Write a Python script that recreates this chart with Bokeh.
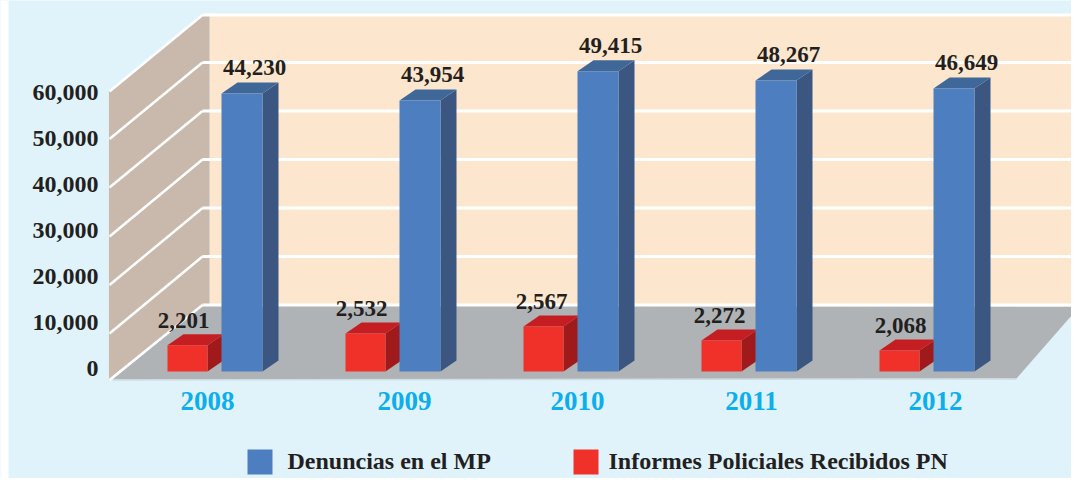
from bokeh.plotting import figure
from bokeh.models import Range1d
from bokeh.core.properties import value
from bokeh.embed import file_html
from bokeh.resources import INLINE

# ---- data ----
years = ["2008", "2009", "2010", "2011", "2012"]
denuncias_labels = [44230, 43954, 49415, 48267, 46649]
informes_labels = [2201, 2532, 2567, 2272, 2068]
# heights as actually drawn in the picture, read against the axis
denuncias_heights = [57300, 55900, 61900, 60000, 58350]
informes_heights = [5400, 7850, 9300, 6400, 4350]
axis_ticks = [0, 10000, 20000, 30000, 40000, 50000, 60000]
series_names = ["Denuncias en el MP", "Informes Policiales Recibidos PN"]

# ---- layout (picture pixels) ----
W, H = 1071, 478
LEFT, TOP = 0, 0
X0 = 167       # pixel of x = 0 (left of the first red bar)
PX_YEAR = 178  # pixels per category
Y0 = 371       # pixel of value 0 at the bars' plane
PX_VAL = 48.5 / 10000

def xp(px):
    return (px - X0) / PX_YEAR

def yp(px):
    return (Y0 - px) / PX_VAL

RED_W, BLUE_W = 40 / PX_YEAR, 41 / PX_YEAR
BLUE_OFF = 54 / PX_YEAR
DX, DY = 16 / PX_YEAR, 11 / PX_VAL
RED_LABEL_DX = [16, 16, 18, 18, 21]
YEAR_LABEL_PX = [207, 404, 577, 751, 935]

BG = "#E0F3FB"
PEACH = "#FDE6CE"
TAN = "#C9B9AC"
FLOOR = "#AFB3B6"
INK = "#231F20"
CYAN = "#0CAEEC"
BLUE = ("#4D7EBF", "#3F6797", "#3A5681")
RED = ("#F0312A", "#C41E23", "#A01A1C")
FONT = value("Liberation Serif")

p = figure(width=W, height=H, output_backend="svg", toolbar_location=None,
           x_range=Range1d(xp(LEFT), xp(LEFT + W)), y_range=Range1d(yp(TOP + H), yp(TOP)),
           x_axis_type="linear", min_border=0, margin=(0, -8, -8, 0),
           background_fill_color=BG, border_fill_color=BG, outline_line_color=None)
p.axis.visible = False
p.grid.visible = False

def poly(pts, color, **kw):
    p.patch([xp(a) for a, _ in pts], [yp(b) for _, b in pts], fill_color=color, line_color=None, **kw)

def pline(xs, ys, color="#FFFFFF", width=3):
    p.line([xp(a) for a in xs], [yp(b) for b in ys], line_color=color, line_width=width)

# white strip down the left of the picture
poly([(0, 0), (8, 0), (8, 486), (0, 486)], "#FFFFFF")

# walls and floor
poly([(209, 13), (1079, 13), (1079, 305), (209, 305)], PEACH)
poly([(108, 91), (202, 14), (209, 14), (209, 305), (202, 305), (108, 380)], TAN)
poly([(112, 379), (202, 305), (1079, 306), (1016, 378)], FLOOR)

back_y = [304.5, 256, 207.5, 159, 110.5, 62, 14.5]
front_y = [379.5, 333, 284.5, 236, 187, 138.5, 91]
for by, fy in zip(back_y, front_y):
    pline([109, 202], [fy, by], width=2.5)
    pline([202, 1079], [by, by], width=3)
pline([108, 108], [91, 380], color="#E6EEF0", width=1)
pline([112, 1016], [379.5, 378.5], color="#CFDCE3", width=1.5)

def bar(left, width, height, colors):
    x0, x1 = left, left + width
    p.patch([x1, x1 + DX, x1 + DX, x1], [0, DY, height + DY, height], fill_color=colors[2], line_color=None)
    p.patch([x0, x1, x1 + DX, x0 + DX], [height, height, height + DY, height + DY],
            fill_color=colors[1], line_color=None)
    p.quad(left=x0, right=x1, bottom=0, top=height, fill_color=colors[0], line_color=None)

for i in range(len(years)):
    bar(i, RED_W, informes_heights[i], RED)
    bar(i + BLUE_OFF, BLUE_W, denuncias_heights[i], BLUE)

def label(x, y, text, size, color=INK, align="center"):
    p.text(x=[x], y=[y], text=[text], text_font=FONT, text_font_style="bold",
           text_font_size=size, text_color=color, text_align=align, text_baseline="middle")

for i in range(len(years)):
    label(i + BLUE_OFF + 33 / PX_YEAR, denuncias_heights[i] + 26 / PX_VAL,
          f"{denuncias_labels[i]:,}", "23px")
    label(i + RED_LABEL_DX[i] / PX_YEAR, informes_heights[i] + 24.5 / PX_VAL,
          f"{informes_labels[i]:,}", "23px")
    label(xp(YEAR_LABEL_PX[i]), yp(400), years[i], "27px", color=CYAN)

for t in axis_ticks:
    label(xp(98), yp(368 - t / 10000 * 46), f"{t:,}", "24px", align="right")

# legend
for lx, name, col in zip((247, 573), series_names, (BLUE[0], RED[0])):
    p.quad(left=xp(lx), right=xp(lx + 25), bottom=yp(474), top=yp(449), fill_color=col, line_color=None)
    label(xp(lx + (40 if lx == 247 else 35)), yp(460), name, "24px", align="left")

open("out.html", "w").write(file_html(p, INLINE))
